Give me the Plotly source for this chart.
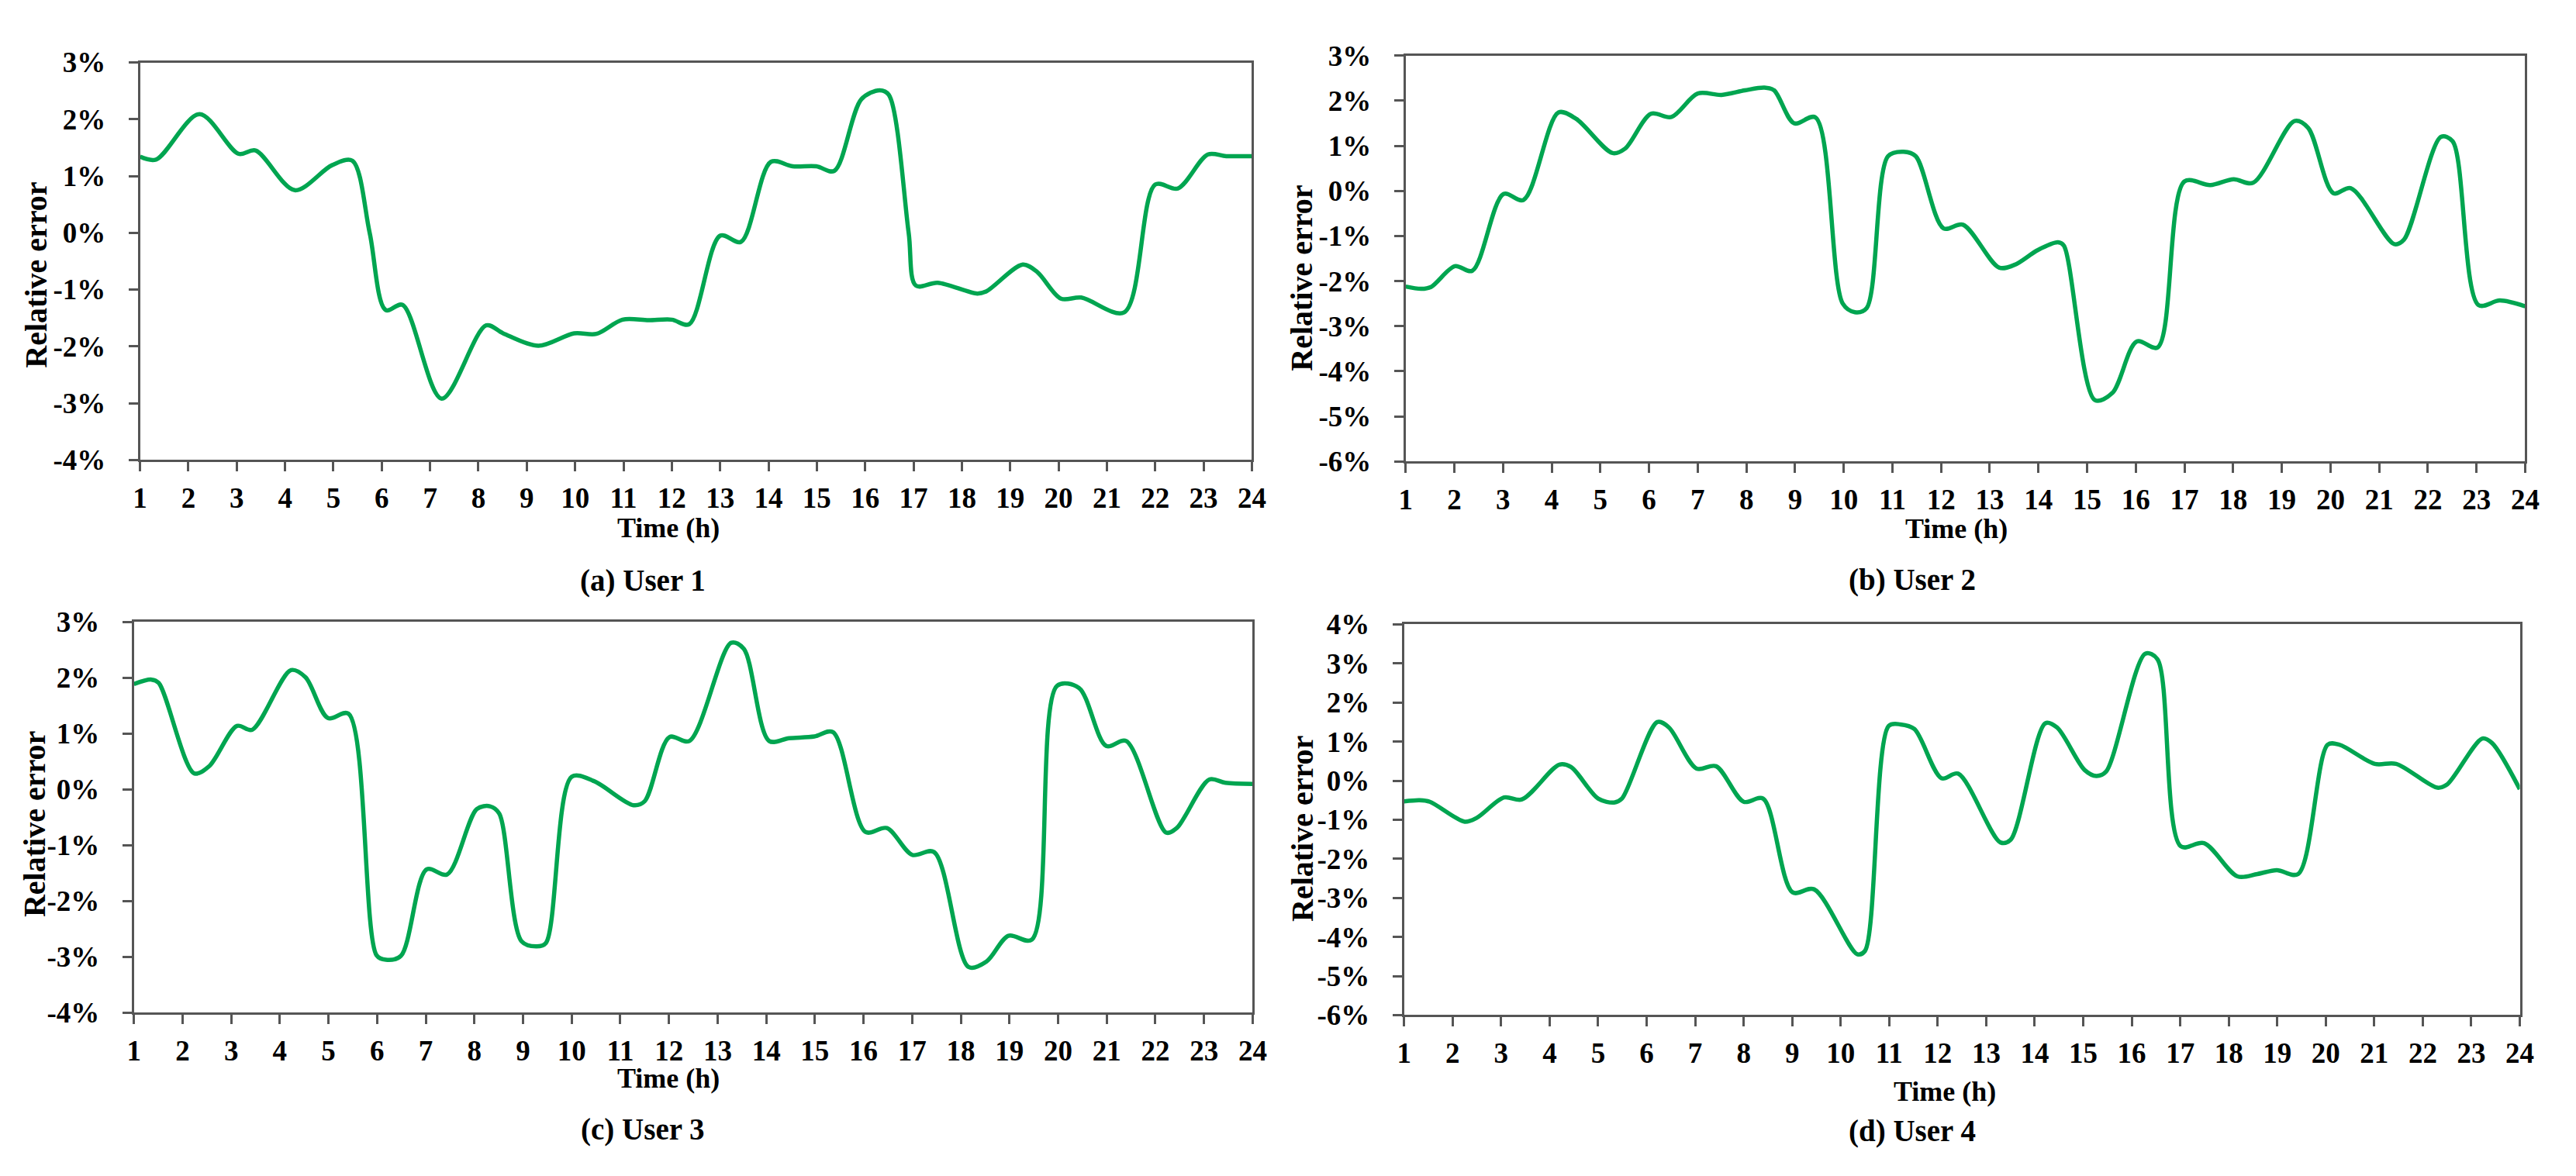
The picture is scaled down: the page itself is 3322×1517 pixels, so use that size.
import plotly.graph_objects as go

W, H = 3322, 1517

# ---------------- data ----------------
HOURS_U1 = [1.0, 1.33, 2.23, 3.04, 3.39, 4.2, 4.97, 5.39, 5.75, 6.08, 6.43, 7.24, 8.16, 8.51, 9.24, 9.98,
            10.44, 10.98, 11.52, 12.0, 12.36, 13.0, 13.43, 14.05, 14.5, 14.99, 15.36, 15.92, 16.3, 16.49,
            16.9, 17.05, 17.5, 18.32, 18.51, 19.26, 19.56, 20.05, 20.47, 21.36, 22.0, 22.47, 23.09, 23.47, 24.0]
ERR_U1 = [1.34, 1.29, 2.09, 1.39, 1.45, 0.75, 1.19, 1.27, 0.0, -1.36, -1.27, -2.92, -1.63, -1.77, -1.99, -1.77,
          -1.78, -1.53, -1.54, -1.53, -1.61, -0.05, -0.16, 1.25, 1.17, 1.17, 1.09, 2.35, 2.51, 2.43,
          0.0, -0.93, -0.88, -1.07, -1.03, -0.56, -0.69, -1.16, -1.14, -1.40, 0.85, 0.78, 1.38, 1.35, 1.35]

HOURS_U2 = [1.0, 1.32, 1.52, 2.01, 2.37, 3.01, 3.42, 4.14, 4.5, 5.25, 5.51, 6.04, 6.46, 7.0, 7.49, 7.97,
            8.37, 8.57, 8.98, 9.42, 9.98, 10.23, 10.47, 10.91, 11.23, 11.48, 12.05, 12.45, 13.19, 13.51,
            13.99, 14.4, 14.52, 15.16, 15.52, 16.02, 16.45, 17.0, 17.53, 18.01, 18.41, 19.26, 19.54, 20.06,
            20.42, 21.31, 21.51, 22.27, 22.51, 23.04, 23.48, 24.0]
ERR_U2 = [-2.12, -2.17, -2.13, -1.67, -1.77, -0.07, -0.2, 1.74, 1.6, 0.84, 0.94, 1.71, 1.64, 2.16, 2.13, 2.23,
          2.29, 2.23, 1.5, 1.63, -2.5, -2.69, -2.6, 0.77, 0.87, 0.77, -0.83, -0.75, -1.70, -1.64,
          -1.31, -1.14, -1.21, -4.64, -4.48, -3.34, -3.47, 0.21, 0.13, 0.26, 0.18, 1.55, 1.40, -0.05,
          0.06, -1.18, -1.08, 1.20, 1.10, -2.53, -2.43, -2.56]

HOURS_U3 = [1.0, 1.36, 1.51, 2.24, 2.55, 3.12, 3.43, 4.23, 4.53, 4.99, 5.41, 5.99, 6.18, 6.49, 7.02, 7.44,
            8.05, 8.32, 8.51, 8.97, 9.28, 9.47, 10.0, 10.46, 11.27, 11.5, 12.01, 12.42, 13.28, 13.54, 14.06,
            14.47, 14.99, 15.37, 16.04, 16.48, 17.0, 17.45, 18.16, 18.53, 18.98, 19.46, 19.98, 20.43, 20.99,
            21.4, 22.22, 22.44, 23.11, 23.44, 24.0]
ERR_U3 = [1.89, 1.97, 1.91, 0.29, 0.42, 1.14, 1.07, 2.14, 2.01, 1.28, 1.36, -2.97, -3.05, -2.98, -1.43, -1.52,
          -0.35, -0.30, -0.43, -2.72, -2.81, -2.75, 0.23, 0.15, -0.28, -0.21, 0.94, 0.87, 2.63, 2.52, 0.87,
          0.92, 0.95, 1.03, -0.76, -0.69, -1.17, -1.12, -3.18, -3.08, -2.62, -2.69, 1.86, 1.82, 0.78,
          0.87, -0.77, -0.69, 0.18, 0.12, 0.10]

HOURS_U4 = [1.0, 1.32, 1.53, 2.25, 2.5, 3.06, 3.43, 4.2, 4.44, 5.0, 5.33, 5.49, 6.22, 6.46, 7.03, 7.43,
            8.0, 8.4, 9.01, 9.45, 10.34, 10.5, 10.99, 11.23, 11.52, 12.08, 12.42, 13.29, 13.5, 14.22, 14.46,
            15.03, 15.27, 15.47, 16.28, 16.53, 17.01, 17.49, 18.18, 18.59, 18.99, 19.43, 20.04, 20.28, 21.01,
            21.45, 22.3, 22.5, 23.23, 23.43, 24.0]
ERR_U4 = [-0.53, -0.50, -0.54, -1.05, -0.95, -0.43, -0.48, 0.41, 0.35, -0.46, -0.56, -0.46, 1.50, 1.36, 0.31, 0.37,
          -0.54, -0.46, -2.86, -2.78, -4.44, -4.36, 1.40, 1.44, 1.32, 0.06, 0.18, -1.58, -1.52, 1.47, 1.36,
          0.27, 0.12, 0.23, 3.25, 3.11, -1.68, -1.60, -2.45, -2.39, -2.29, -2.39, 0.92, 0.92, 0.43,
          0.43, -0.18, -0.10, 1.08, 0.96, -0.22]

X_TICKS = list(range(1, 25))
X_TICK_LABELS = [str(h) for h in X_TICKS]
Y_TICKS_A = [-4, -3, -2, -1, 0, 1, 2, 3]
Y_TICKS_B = [-6, -5, -4, -3, -2, -1, 0, 1, 2, 3]
Y_TICKS_D = [-6, -5, -4, -3, -2, -1, 0, 1, 2, 3, 4]
CAPTIONS = ["(a) User 1", "(b) User 2", "(c) User 3", "(d) User 4"]
X_TITLE = "Time (h)"
Y_TITLE = "Relative error"

# ---------------- styling ----------------
FONT = "Liberation Serif, Times New Roman, serif"
LINE_COLOR = "#00a550"
AXIS_COLOR = "#555555"

# pixel boxes of the four plot areas: (left, right, top, bottom)
boxes = [
    (165, 1611, 54, 581),
    (1811, 3267, 45, 583),
    (157, 1612, 796, 1314),
    (1809, 3260, 799, 1317),
]
series = [(HOURS_U1, ERR_U1, Y_TICKS_A), (HOURS_U2, ERR_U2, Y_TICKS_B),
          (HOURS_U3, ERR_U3, Y_TICKS_A), (HOURS_U4, ERR_U4, Y_TICKS_D)]

fig = go.Figure()
layout = dict(
    width=W, height=H, margin=dict(l=0, r=0, t=0, b=0),
    paper_bgcolor="white", plot_bgcolor="white", showlegend=False,
)

def px_x(p):
    return p / W

def px_y(p):
    return 1 - p / H

for i, ((l, r, t, b), (xs, ys, yt)) in enumerate(zip(boxes, series)):
    n = "" if i == 0 else str(i + 1)
    fig.add_trace(go.Scatter(
        x=xs, y=ys, mode="lines",
        line=dict(color=LINE_COLOR, width=5.5, shape="spline", smoothing=0.9),
        xaxis="x" + n, yaxis="y" + n, hoverinfo="skip",
    ))
    layout["xaxis" + n] = dict(
        domain=[px_x(l), px_x(r)], range=[1, 24], anchor="y" + n,
        tickmode="array", tickvals=X_TICKS, ticktext=X_TICK_LABELS,
        ticks="outside", ticklen=12, tickwidth=3, tickcolor=AXIS_COLOR,
        showline=True, linecolor=AXIS_COLOR, linewidth=3, mirror=True,
        showgrid=False, zeroline=False, ticklabelstandoff=2,
        tickfont=dict(family=FONT, size=37, color="black", weight="bold"),
    )
    layout["yaxis" + n] = dict(
        domain=[px_y(b), px_y(t)], range=[yt[0], yt[-1]], anchor="x" + n,
        tickmode="array", tickvals=yt, ticktext=[f"{v}%" for v in yt],
        ticks="outside", ticklen=12, tickwidth=3, tickcolor=AXIS_COLOR,
        showline=True, linecolor=AXIS_COLOR, linewidth=3, mirror=True,
        showgrid=False, zeroline=False, ticklabelstandoff=22,
        tickfont=dict(family=FONT, size=37, color="black", weight="bold"),
    )

# titles / captions (pixel centres)
ytitle_pos = [(30, 336), (1676, 340), (27, 1064), (1676, 1070)]
xtitle_pos = [(852, 671), (2527, 672), (852, 1401), (2512, 1418)]
caption_pos = [(819, 741), (2470, 740), (819, 1469), (2470, 1471)]

ann = []
for i in range(4):
    x, y = ytitle_pos[i]
    ann.append(dict(text=Y_TITLE, x=px_x(x), y=px_y(y), xref="paper", yref="paper",
                    showarrow=False, textangle=-90, xanchor="center", yanchor="middle",
                    font=dict(family=FONT, size=40, color="black", weight="bold")))
    x, y = xtitle_pos[i]
    ann.append(dict(text=X_TITLE, x=px_x(x), y=px_y(y), xref="paper", yref="paper",
                    showarrow=False, xanchor="center", yanchor="middle",
                    font=dict(family=FONT, size=36, color="black", weight="bold")))
    x, y = caption_pos[i]
    ann.append(dict(text=CAPTIONS[i], x=px_x(x), y=px_y(y), xref="paper", yref="paper",
                    showarrow=False, xanchor="center", yanchor="middle",
                    font=dict(family=FONT, size=39, color="black", weight="bold")))
layout["annotations"] = ann

fig.update_layout(**layout)
fig.write_html("out.html")
